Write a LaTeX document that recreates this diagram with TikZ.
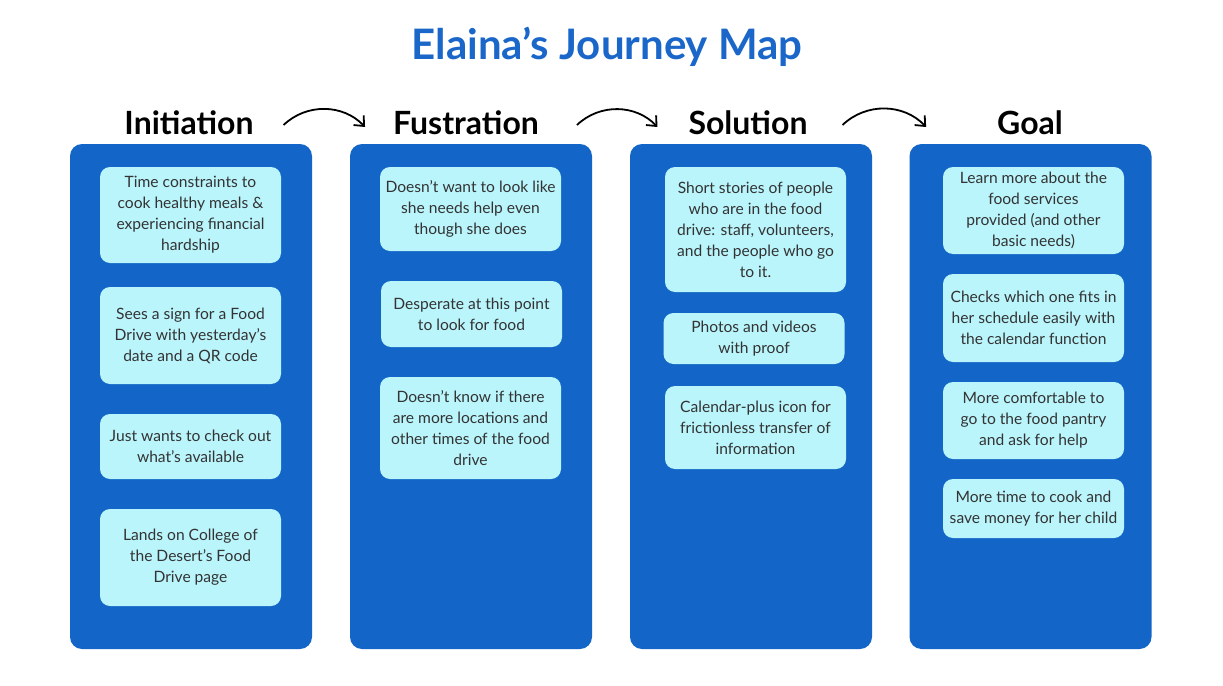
\documentclass[tikz,border=0pt]{standalone}
\usepackage{fontspec}
\setmainfont{Lato}
\usepackage{xcolor}
\usepackage{tikz}
\usetikzlibrary{arrows.meta}

\definecolor{mapblue}{HTML}{1366C7}
\definecolor{titleblue}{HTML}{1A67C9}
\definecolor{cardcyan}{HTML}{BAF5FC}
\definecolor{cardtext}{HTML}{333333}

\begin{document}
\begin{tikzpicture}[x=0.5pt,y=-0.5pt,
    column/.style={fill=mapblue, rounded corners=6pt, minimum width=121pt, minimum height=252.5pt, inner sep=0pt},
    card/.style={fill=cardcyan, rounded corners=5pt, minimum width=90.5pt, inner sep=0pt, align=center,
      text=cardtext, font=\fontsize{7.8}{10.5}\selectfont},
    heading/.style={font=\fontsize{16}{18}\selectfont\bfseries},
    flow/.style={-{Straight Barb[length=4pt,width=7pt]}, line width=0.9pt, bend left=45}]
          \useasboundingbox (0,0) rectangle (1223,686);
          \node[font=\fontsize{21}{24}\selectfont\bfseries, text=titleblue] (title) at (607,47) {Elaina’s Journey Map};

          % stage headings
          \node[heading] (init) at (189,123) {Initiation};
          \node[heading] (fust) at (466,123) {Fustration};
          \node[heading] (sol) at (748,123) {Solution};
          \node[heading] (goal) at (1030,123) {Goal};
          \draw[flow] ([xshift=11.5pt,yshift=-1pt]init.east) to ([xshift=-10.5pt,yshift=-2pt]fust.west);
          \draw[flow] ([xshift=15.5pt,yshift=-1pt]fust.east) to ([xshift=-12pt,yshift=-2pt]sol.west);
          \draw[flow] ([xshift=14pt,yshift=-1pt]sol.east) to ([xshift=-32pt,yshift=-2pt]goal.west);

          \node[column] (col1) at (191,396.5) {};
          \node[column] (col2) at (471,396.5) {};
          \node[column] (col3) at (751,396.5) {};
          \node[column] (col4) at (1030.5,396.5) {};

          % Initiation
          \node[card, minimum height=48pt] (i1) at (190.5,215) {Time constraints to\\cook healthy meals \&\\experiencing financial\\hardship};
          \node[card, minimum height=48.5pt] (i2) at (190.5,335.5) {Sees a sign for a Food\\Drive with yesterday’s\\date and a QR code};
          \node[card, minimum height=32.5pt] (i3) at (190.5,446.5) {Just wants to check out\\what’s available};
          \node[card, minimum height=48.5pt] (i4) at (190.5,557.5) {Lands on College of\\the Desert’s Food\\Drive page};

          % Fustration
          \node[card, minimum height=42pt] (f1) at (470.5,209) {Doesn’t want to look like\\she needs help even\\though she does};
          \node[card, minimum height=33pt] (f2) at (471.5,314) {Desperate at this point\\to look for food};
          \node[card, minimum height=51pt] (f3) at (470.5,428) {Doesn’t know if there\\are more locations and\\other times of the food\\drive};

          % Solution
          \node[card, minimum height=62.5pt] (s1) at (755.5,229.5) {Short stories of people\\who are in the food\\drive: staff, volunteers,\\and the people who go\\to it.};
          \node[card, minimum height=25.5pt] (s2) at (754,338.5) {Photos and videos\\with proof};
          \node[card, minimum height=41.5pt] (s3) at (755.5,427.5) {Calendar-plus icon for\\frictionless transfer of\\information};

          % Goal
          \node[card, minimum height=43.5pt] (g1) at (1033.5,210.5) {Learn more about the\\food services\\provided (and other\\basic needs)};
          \node[card, minimum height=44pt] (g2) at (1033.5,318) {Checks which one fits in\\her schedule easily with\\the calendar function};
          \node[card, minimum height=38.5pt] (g3) at (1033.5,420.5) {More comfortable to\\go to the food pantry\\and ask for help};
          \node[card, minimum height=29.5pt] (g4) at (1033.5,508.5) {More time to cook and\\save money for her child};
        \end{tikzpicture}
\end{document}
